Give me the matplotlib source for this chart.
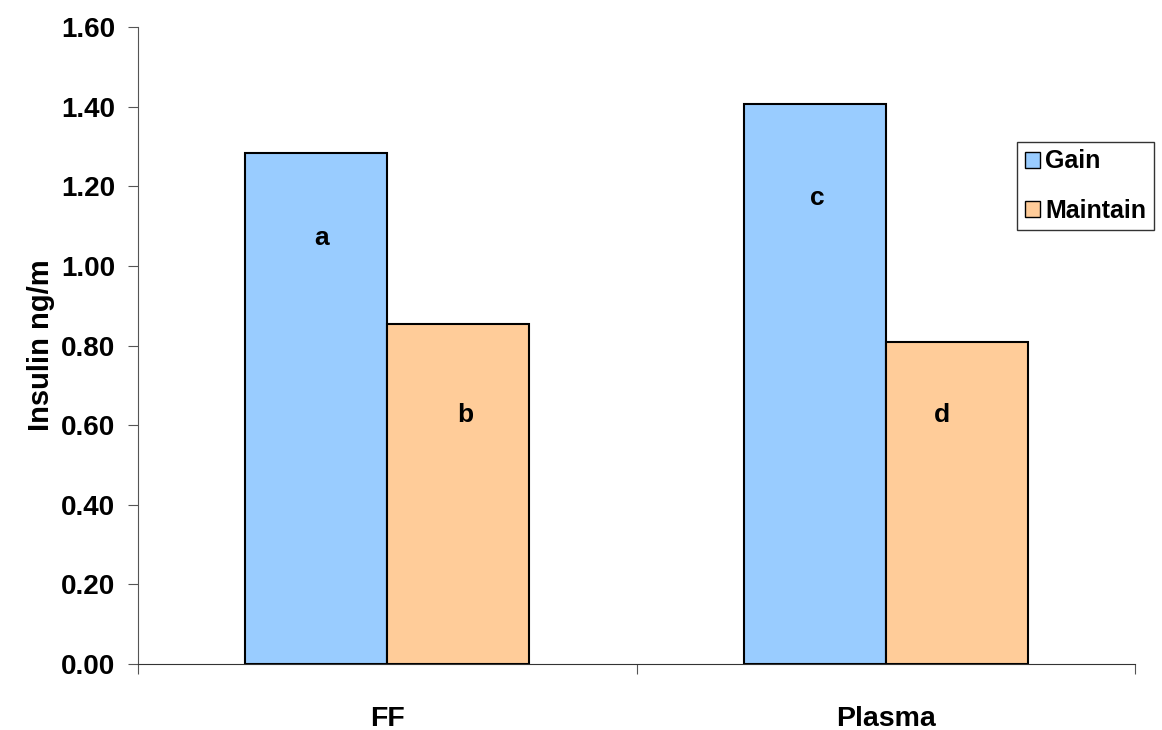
import matplotlib.pyplot as plt
import matplotlib.patches as mpatches
import numpy as np

plt.rcParams['font.family'] = ['Liberation Sans', 'DejaVu Sans']
plt.rcParams['font.weight'] = 'bold'

categories = ['FF', 'Plasma']
series = ['Gain', 'Maintain']
gain = [1.284, 1.407]
maintain = [0.854, 0.809]
letters_gain = ['a', 'c']
letters_maintain = ['b', 'd']
# where the letters sit inside the bars (value units / offset from bar centre)
letter_y_gain = [1.07, 1.17]
letter_y_maintain = [0.625, 0.625]
letter_dx_gain = [0.01, 0.006]
letter_dx_maintain = [0.014, -0.03]

colors = ['#99CCFF', '#FFCC99']

fig = plt.figure(figsize=(11.62, 7.30), dpi=100)
ax = fig.add_axes([138 / 1162, 1 - 664 / 730, (1135 - 138) / 1162, (664 - 27) / 730])

x = np.arange(len(categories)) + 0.5
w = 0.285
ax.bar(x - w / 2, gain, w, color=colors[0], edgecolor='black', linewidth=1.5)
ax.bar(x + w / 2, maintain, w, color=colors[1], edgecolor='black', linewidth=1.5)

for i in range(len(categories)):
    ax.text(x[i] - w / 2 + letter_dx_gain[i], letter_y_gain[i], letters_gain[i],
            ha='center', va='center', fontsize=19, fontweight='bold')
    ax.text(x[i] + w / 2 + letter_dx_maintain[i], letter_y_maintain[i], letters_maintain[i],
            ha='center', va='center', fontsize=19, fontweight='bold')

ax.set_xlim(0, len(categories))
ax.set_ylim(0, 1.6)
yt = np.arange(0, 1.61, 0.2)
ax.set_yticks(yt)
ax.set_yticklabels(['%.2f' % v for v in yt], fontsize=20, fontweight='bold')
ax.set_xticks(np.arange(len(categories) + 1))
ax.set_xticklabels([])
ax.set_xticks(x, minor=True)
ax.set_xticklabels(categories, minor=True, fontsize=20.5, fontweight='bold')
ax.tick_params(axis='x', which='minor', length=0, pad=30)
ax.tick_params(axis='x', which='major', length=7.5, color='#555555', direction='out')
ax.tick_params(axis='y', length=7.5, color='#555555', direction='out', pad=9)

for side in ['top', 'right']:
    ax.spines[side].set_visible(False)
ax.spines['left'].set_color('#555555')
ax.spines['bottom'].set_color('#333333')

ax.set_ylabel('Insulin ng/m', fontsize=21, fontweight='bold', labelpad=4)

handles = [mpatches.Patch(facecolor=colors[0], edgecolor='black', label=series[0]),
           mpatches.Patch(facecolor=colors[1], edgecolor='black', label=series[1])]
leg = fig.legend(handles=handles, loc='upper left',
                 bbox_to_anchor=(1017 / 1162, 1 - 142 / 730),
                 fancybox=False, edgecolor='#333333', framealpha=1,
                 prop={'size': 18, 'weight': 'bold'},
                 handlelength=0.6, handleheight=0.6, handletextpad=0.22,
                 labelspacing=1.0, borderpad=0.3, borderaxespad=0)
leg.get_frame().set_linewidth(1)

fig.savefig('out.png', dpi=100)
